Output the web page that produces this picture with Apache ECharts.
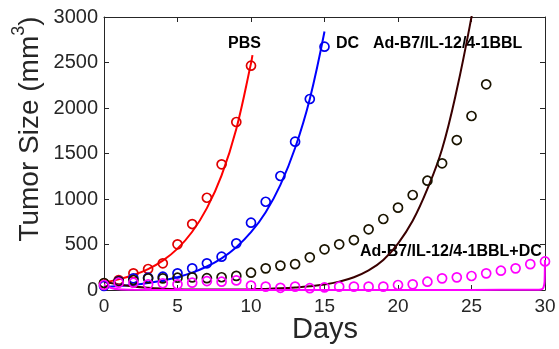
<!DOCTYPE html>
<html><head><meta charset="utf-8">
<script src="https://cdn.jsdelivr.net/npm/echarts/dist/echarts.min.js"></script>
<style>html,body{margin:0;padding:0;background:#fff}#c{width:559px;height:349px}</style>
</head><body><div id="c"></div>
<script>
// Tick values
const xTicks = [0, 5, 10, 15, 20, 25, 30];
const yTicks = [0, 500, 1000, 1500, 2000, 2500, 3000];

// Observed data (open circles)
const pbsDays = [0,1,2,3,4,5,6,7,8,9,10];
const pbsVals = [74,110,183,231,293,502,725,1014,1381,1846,2465];

const dcDays = [0,1,2,3,4,5,6,7,8,9,10,11,12,13,14,15];
const dcVals = [44,99,128,135,146,183,238,293,366,513,740,970,1253,1630,2099,2674];

const adDays = [0,1,2,3,4,5,6,7,8,9,10,11,12,13,14,15,16,17,18,19,20,21,22,23,24,25,26];
const adVals = [77,95,110,128,128,135,139,130,140,155,190,238,268,284,359,447,502,549,667,780,905,1044,1201,1392,1648,1912,2260];

const addcDays = [0,1,2,3,4,5,6,7,8,9,10,11,12,13,14,15,16,17,18,19,20,21,22,23,24,25,26,27,28,29,30];
const addcVals = [55,80,80,62,74,62,80,98,91,105,48,37,24,37,20,28,37,37,37,37,55,62,91,128,139,154,183,212,238,284,314];

// Fitted curves
const pbsFitDays = [0,1,2,3,4,5,6,7,8,9,10,10.1];
const pbsFitVals = [83,117,165,230,323,455,640,900,1260,1770,2490,2580];

const dcFitDays = [0,1,2,3,4,5,6,7,8,9,10,11,12,13,14,15];
const dcFitVals = [32,43,58,78,105,141,191,258,348,470,635,855,1155,1560,2100,2840];

const adFitDays = [0,1,2,3,4,5,6,7,8,9,10,11,12,13,14,15,16,17,18,19,20,21,22,23,24,25,25.3];
const adFitVals = [90,60,38,24,15,9,6,5,5,6,8,12,18,27,40,60,92,140,215,330,510,760,1110,1550,2200,3000,3300];

const addcFitDays = [0,0.5,1,2,5,10,15,20,25,29,29.6,29.8,29.9,29.97,30];
const addcFitVals = [55,22,7,2,1,1,1,1,1,2,3,10,30,90,330];

const pairs = (d, v) => d.map((x, i) => [x, v[i]]);

const axisColor = '#262626';
const xTickFont = { fontFamily: 'Liberation Sans', fontSize: 19, color: '#262626' };
const yTickFont = { fontFamily: 'Liberation Sans', fontSize: 20, color: '#262626' };

function fitSeries(d, v, color, smooth) {
  return { type: 'line', data: pairs(d, v), showSymbol: false, symbol: 'none',
    smooth: smooth, clip: true,
    lineStyle: { color: color, width: 2 }, z: 2 };
}
function pointSeries(d, v, color) {
  return { type: 'scatter', data: pairs(d, v), symbol: 'circle', symbolSize: 9,
    itemStyle: { color: 'rgba(0,0,0,0)', borderColor: color, borderWidth: 1.7, opacity: 1 }, z: 3 };
}

const chart = echarts.init(document.getElementById('c'), null, { renderer: 'canvas' });
chart.setOption({
  animation: false,
  backgroundColor: '#fff',
  grid: { left: 104, right: 14, top: 17, bottom: 59 },
  xAxis: [
    { type: 'value', position: 'bottom', min: 0, max: 30, interval: 5,
      axisLine: { show: true, lineStyle: { color: axisColor, width: 1 } },
      axisTick: { show: true, inside: true, length: 5, lineStyle: { color: axisColor } },
      splitLine: { show: false },
      axisLabel: Object.assign({ margin: 7, formatter: v => String(v) }, xTickFont) },
    { type: 'value', position: 'top', min: 0, max: 30, interval: 5,
      axisLine: { show: true, onZero: false, lineStyle: { color: axisColor, width: 1 } },
      axisTick: { show: true, inside: true, length: 5, lineStyle: { color: axisColor } },
      splitLine: { show: false }, axisLabel: { show: false } }
  ],
  yAxis: [
    { type: 'value', position: 'left', min: 0, max: 3000, interval: 500,
      axisLine: { show: true, lineStyle: { color: axisColor, width: 1 } },
      axisTick: { show: true, inside: true, length: 5, lineStyle: { color: axisColor } },
      splitLine: { show: false },
      axisLabel: Object.assign({ margin: 6, formatter: v => String(v) }, yTickFont) },
    { type: 'value', position: 'right', min: 0, max: 3000, interval: 500,
      axisLine: { show: true, onZero: false, lineStyle: { color: axisColor, width: 1 } },
      axisTick: { show: true, inside: true, length: 5, lineStyle: { color: axisColor } },
      splitLine: { show: false }, axisLabel: { show: false } }
  ],
  series: [
    fitSeries(pbsFitDays, pbsFitVals, '#ff0000', 0.4),
    pointSeries(pbsDays, pbsVals, '#e00000'),
    fitSeries(dcFitDays, dcFitVals, '#0000ff', 0.4),
    pointSeries(dcDays, dcVals, '#0000ee'),
    fitSeries(adFitDays, adFitVals, '#3a0000', 0.4),
    pointSeries(adDays, adVals, '#1a1400'),
    fitSeries(addcFitDays, addcFitVals, '#ff00ff', 0.15),
    pointSeries(addcDays, addcVals, '#ff00ff')
  ],
  graphic: [
    { type: 'text', left: 228, top: 36, style: { text: 'PBS', font: 'bold 16px "Liberation Sans"', fill: '#000' } },
    { type: 'text', left: 336, top: 36, style: { text: 'DC', font: 'bold 16px "Liberation Sans"', fill: '#000' } },
    { type: 'text', left: 373, top: 36, style: { text: 'Ad-B7/IL-12/4-1BBL', font: 'bold 16px "Liberation Sans"', fill: '#000' } },
    { type: 'text', left: 360, top: 244, style: { text: 'Ad-B7/IL-12/4-1BBL+DC', font: 'bold 16px "Liberation Sans"', fill: '#000' } },
    { type: 'text', x: 325, y: 330, style: { text: 'Days', font: '29px "Liberation Sans"', fill: '#262626', align: 'center', verticalAlign: 'middle' } },
    { type: 'text', x: 27, y: 129, rotation: Math.PI / 2,
      style: { text: '{a|Tumor Size (mm}{s|3}{a|)}', align: 'center', verticalAlign: 'middle',
        rich: {
          a: { fontFamily: 'Liberation Sans', fontSize: 28, fill: '#262626', color: '#262626', lineHeight: 34, verticalAlign: 'bottom' },
          s: { fontFamily: 'Liberation Sans', fontSize: 18, fill: '#262626', color: '#262626', lineHeight: 34, verticalAlign: 'top' }
        } } }
  ]
});
</script></body></html>
